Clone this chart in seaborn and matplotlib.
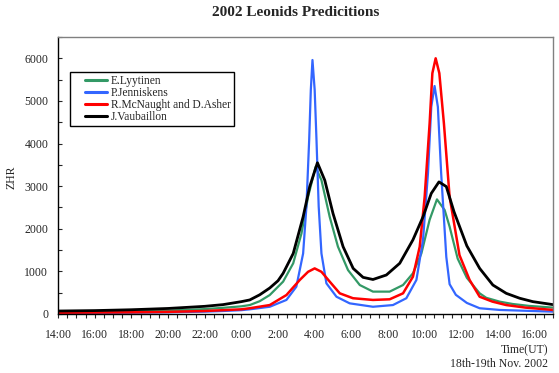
import matplotlib
matplotlib.use('Agg')
import matplotlib.pyplot as plt
import seaborn as sns
from matplotlib.lines import Line2D
from matplotlib.legend_handler import HandlerLine2D
from matplotlib.ticker import MultipleLocator

# hours after 14:00 UT on 18 Nov 2002
tick_pos = [0, 2, 4, 6, 8, 10, 12, 14, 16, 18, 20, 22, 24, 26]
tick_labels = ['14:00', '16:00', '18:00', '20:00', '22:00', '0:00', '2:00',
               '4:00', '6:00', '8:00', '10:00', '12:00', '14:00', '16:00']

# E.Lyytinen
lyy_h = [0, 2, 4, 6, 8, 9, 10, 10.46, 11, 11.55, 12.28, 12.83, 13.28, 13.64, 14.05,
         14.37, 14.82, 15.27, 15.82, 16.46, 17.18, 18.09, 18.82, 19.36, 19.82, 20.27,
         20.67, 21.09, 21.36, 21.8, 22.3, 23.0, 23.36, 24.09, 24.8, 25.7, 27]
lyy_zhr = [40, 50, 60, 80, 115, 145, 180, 210, 300, 445, 760, 1190, 1890, 2750, 3450,
           3140, 2280, 1580, 1030, 680, 525, 525, 680, 955, 1420, 2210,
           2690, 2440, 2050, 1300, 850, 485, 380, 290, 235, 190, 150]

# P.Jenniskens
jen_h = [0, 2, 4, 6, 8, 9, 10, 10.46, 11.55, 12.46, 13.0, 13.37, 13.55, 13.7, 13.79,
         13.88, 14.0, 14.1, 14.22, 14.37, 14.64, 15.19, 15.91, 17.18, 18.27, 19.0,
         19.55, 19.91, 20.18, 20.36, 20.54, 20.72, 20.9, 21.18, 21.36, 21.7, 22.3,
         23.0, 24.1, 27]
jen_zhr = [25, 28, 32, 40, 55, 70, 90, 110, 170, 330, 640, 1420, 2520, 4080, 5260,
           5960, 5260, 4080, 2520, 1420, 720, 405, 250, 170, 210, 370,
           800, 1740, 3300, 4860, 5350, 4860, 3300, 1340, 700, 450, 260,
           135, 95, 55]

# R.McNaught and D.Asher
mcn_h = [0, 2, 4, 6, 8, 9, 10, 10.46, 11.55, 12.46, 13.19, 13.64, 14.0, 14.37, 14.82,
         15.37, 16.09, 17.18, 18.09, 18.82, 19.36, 19.73, 20.0, 20.27, 20.42, 20.6,
         20.8, 21.05, 21.36, 21.9, 22.45, 23.0, 23.7, 24.45, 25.5, 27]
mcn_zhr = [30, 35, 40, 50, 70, 90, 110, 135, 210, 445, 800, 990, 1070, 990, 760,
           485, 370, 330, 345, 485, 875, 1580, 2750, 4470, 5650, 6000,
           5650, 4470, 2750, 1380, 800, 405, 290, 210, 150, 95]

# J.Vaubaillon
vau_h = [0, 2, 4, 6, 8, 9, 10, 10.46, 11, 11.55, 12, 12.28, 12.83, 13.37, 13.73,
         14.15, 14.55, 15.0, 15.55, 16.1, 16.64, 17.18, 17.91, 18.64, 19.36, 19.91,
         20.36, 20.78, 21.18, 21.6, 22.3, 23.0, 23.72, 24.45, 25.18, 25.9, 27]
vau_zhr = [70, 80, 100, 130, 180, 220, 290, 330, 450, 610, 780, 955, 1420, 2280, 2990,
           3550, 3140, 2360, 1580, 1070, 860, 810, 915, 1190, 1740, 2280,
           2830, 3100, 2990, 2400, 1600, 1070, 680, 485, 370, 290, 220]

series = [
    ('E.Lyytinen', lyy_h, lyy_zhr, '#339966', 1.6),
    ('P.Jenniskens', jen_h, jen_zhr, '#3366FF', 1.6),
    ('R.McNaught and D.Asher', mcn_h, mcn_zhr, '#FF0000', 1.8),
    ('J.Vaubaillon', vau_h, vau_zhr, '#000000', 2.0),
]

sns.set_style('white')
plt.rcParams['font.family'] = ['Liberation Serif', 'DejaVu Serif']

fig = plt.figure(figsize=(5.59, 3.73), dpi=100)
ax = fig.add_axes([58 / 559, 59 / 373, 495 / 559, 277 / 373])

for name, h, zhr, col, lw in series:
    sns.lineplot(x=h, y=zhr, color=col, lw=lw, label=name, ax=ax)

ax.set_xlim(0, 27)
ax.set_ylim(0, 6500)
ax.set_xticks(tick_pos)
ax.set_xticklabels(tick_labels)
ax.xaxis.set_minor_locator(MultipleLocator(0.5))
ax.yaxis.set_major_locator(MultipleLocator(1000))
ax.yaxis.set_minor_locator(MultipleLocator(500))
ax.tick_params(axis='x', which='both', direction='out', length=3, width=0.8,
               labelsize=8.5, pad=8, bottom=True)
ax.tick_params(axis='y', which='both', direction='in', length=3, width=0.8,
               labelsize=8.5, pad=7, left=True)
ax.set_xlabel('')
ax.set_ylabel('')

for side in ['left', 'bottom']:
    ax.spines[side].set_color('black')
    ax.spines[side].set_linewidth(1)
for side in ['top', 'right']:
    ax.spines[side].set_color('#808080')
    ax.spines[side].set_linewidth(1)

leg = ax.legend(loc='upper left', bbox_to_anchor=(0.024, 0.874), borderaxespad=0,
                fontsize=8.3, frameon=True, fancybox=False, edgecolor='black',
                handlelength=3.0, handletextpad=0.3, labelspacing=0.02,
                borderpad=0.25, handler_map={Line2D: HandlerLine2D(xpad=1.1)})
leg.get_frame().set_linewidth(1)
leg.get_frame().set_alpha(1)
for line in leg.get_lines():
    line.set_linewidth(2.2)

fig.text(296 / 559, 1 - 12 / 373, '2002 Leonids Predicitions', ha='center', va='center',
         fontsize=11, fontweight='bold')
fig.text(12 / 559, 1 - 177 / 373, 'ZHR', rotation=90, ha='center', va='center', fontsize=8.5)
fig.text(548 / 559, 1 - 350 / 373, 'Time(UT)', ha='right', va='center', fontsize=8.5)
fig.text(548 / 559, 1 - 364 / 373, '18th-19th Nov. 2002', ha='right', va='center', fontsize=8.5)

fig.savefig('out.png', dpi=100)
